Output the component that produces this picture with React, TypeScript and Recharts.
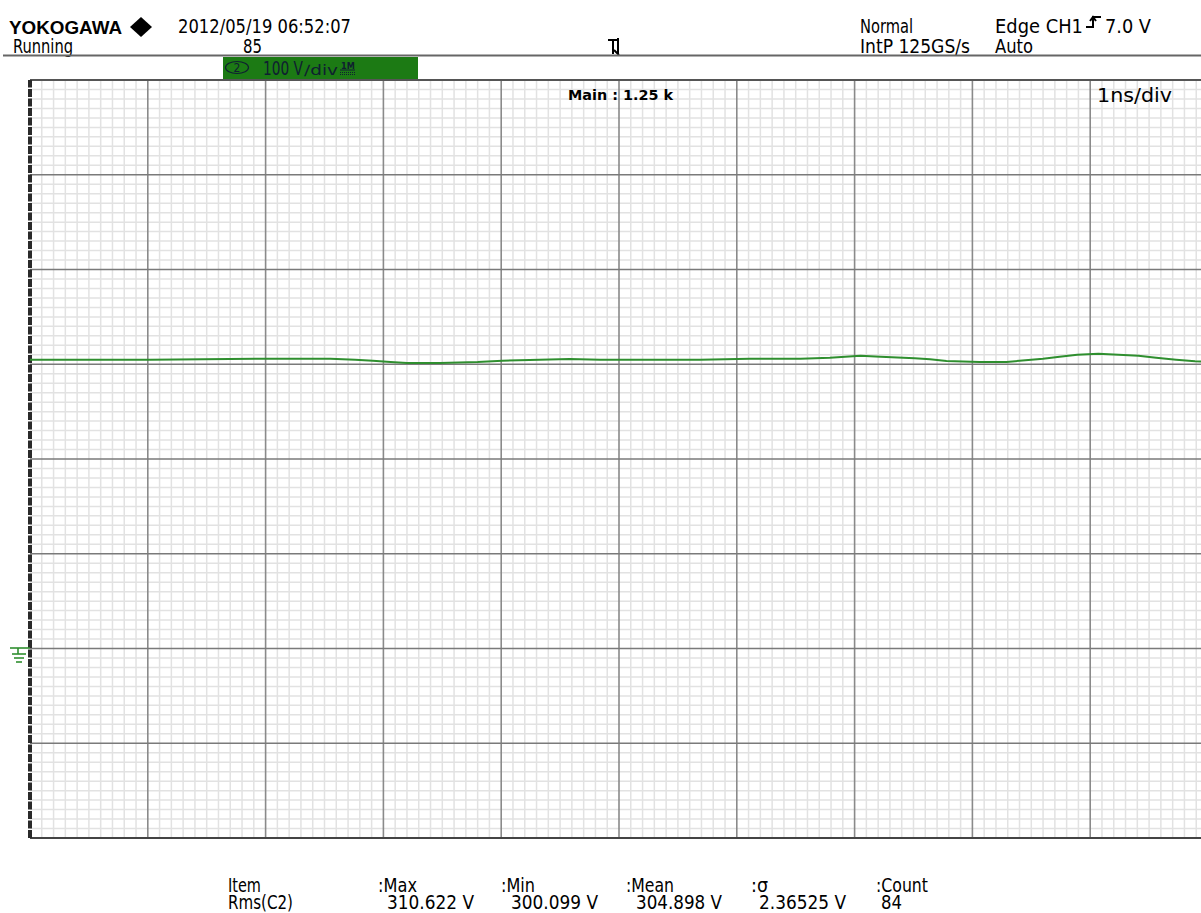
import { LineChart, Line, XAxis, YAxis, ReferenceLine } from "recharts";

// CH2 trace, time in ns and level in volts
const timeNs = [
  0, 1.02, 1.94, 2.55, 2.76, 2.91, 3.06, 3.2, 3.48, 3.8, 4.01, 4.24, 4.58, 4.84,
  5.69, 6.11, 6.54, 6.79, 7.05, 7.22, 7.51, 7.64, 7.78, 8.06, 8.29, 8.4, 8.6,
  8.74, 8.89, 9.07, 9.24, 9.41, 9.56, 9.73, 9.89, 10,
];
const ch2Volts = [
  304.8, 304.8, 305.9, 305.9, 304.8, 303.7, 302.4, 301.3, 301.3, 302.4, 303.7,
  304.5, 305.5, 304.8, 304.8, 305.9, 305.9, 306.9, 309.0, 308.0, 306.3, 305.2,
  303.4, 302.4, 302.4, 303.7, 305.9, 308.0, 310.1, 311.1, 310.1, 309.0, 306.9,
  304.8, 303.1, 302.6,
];

// screen: 10 div x 1 ns, 8 div x 100 V, ground two divisions up
const timeDomain = [0, 10];
const voltDomain = [-200, 600];
const majorTimes = [1, 2, 3, 4, 5, 6, 7, 8, 9];
const majorVolts = [-100, 0, 100, 200, 300, 400, 500];
const minorTimes = Array.from({ length: 100 }, (_, i) => i / 10).filter((t) => t % 1 !== 0);
const minorVolts = Array.from({ length: 80 }, (_, i) => -200 + i * 10).filter((v) => v % 100 !== 0);

// measurement readout
const statHeads = ["Item", ":Max", ":Min", ":Mean", ":\u03c3", ":Count"];
const statValues = ["Rms(C2)", "310.622 V", "300.099 V", "304.898 V", "2.36525 V", "84"];
const statHeadX = [228, 378, 501, 626, 751, 876];
const statHeadW = [33, 39, 34, 48, 17, 52];
const statValueX = [228, 387, 511, 636, 759, 881];
const statValueW = [65, 87, 87, 86, 87, 21];

const rows = timeNs.map((t, i) => ({ t, v: ch2Volts[i] }));

const FONT = '"DejaVu Sans Condensed", "DejaVu Sans", sans-serif';

function T({
  x,
  y,
  w,
  size = 20,
  fill = "#000",
  bold = false,
  family = FONT,
  children,
}: {
  x: number;
  y: number;
  w: number;
  size?: number;
  fill?: string;
  bold?: boolean;
  family?: string;
  children: string;
}) {
  return (
    <text
      x={x}
      y={y}
      fontSize={size}
      fill={fill}
      fontFamily={family}
      fontWeight={bold ? "bold" : "normal"}
      textLength={w}
      lengthAdjust="spacingAndGlyphs"
    >
      {children}
    </text>
  );
}

function Overlay() {
  return (
    <svg
      width={1201}
      height={913}
      style={{ position: "absolute", left: 0, top: 0, pointerEvents: "none" }}
    >
      {/* header */}
      <T x={9} y={34} w={113} size={18} bold family='"Liberation Sans", Arial, sans-serif'>
        YOKOGAWA
      </T>
      <path d="M141 17 L152 27 L141 37 L130 27 Z" fill="#000" />
      <T x={178} y={33} w={173}>2012/05/19 06:52:07</T>
      <T x={13} y={53} w={60}>Running</T>
      <T x={243} y={53} w={19}>85</T>
      <T x={860} y={33} w={53}>Normal</T>
      <T x={860} y={53} w={110}>IntP  125GS/s</T>
      <T x={995} y={33} w={88}>Edge CH1</T>
      <path d="M1086 27 H1093 V17 H1101 M1090 21 L1093 17 L1096 21" stroke="#000" strokeWidth={2} fill="none" />
      <T x={1105} y={33} w={46}>7.0 V</T>
      <T x={995} y={53} w={38}>Auto</T>

      {/* trigger position mark */}
      <path d="M608 40 H618 M613 40 V54 M618 38 V54 M614 50 L619 55" stroke="#000" strokeWidth={2} fill="none" />

      <line x1={3} x2={1201} y1={55.5} y2={55.5} stroke="#666" strokeWidth={2} />

      {/* channel badge */}
      <rect x={223} y={57} width={195} height={22} fill="#1c7a14" />
      <ellipse cx={237} cy={67.5} rx={11.5} ry={6} fill="none" stroke="#0f2030" strokeWidth={1.2} />
      <text x={237} y={72} fontSize={12} fontFamily={FONT} textAnchor="middle" fill="#0f2030">2</text>
      <text y={75} fontFamily={FONT} fill="#0f2030" lengthAdjust="spacingAndGlyphs">
        <tspan x={263} fontSize={19} textLength={40} lengthAdjust="spacingAndGlyphs">100 V</tspan>
        <tspan x={304} fontSize={14} textLength={34} lengthAdjust="spacingAndGlyphs">∕div</tspan>
      </text>
      <text x={341} y={69} fontSize={9} fontWeight="bold" fontFamily={FONT} fill="#0f2030">1M</text>
      <line x1={340} x2={355} y1={70} y2={70} stroke="#0f2030" strokeWidth={1} />
      <line x1={340} x2={355} y1={72.5} y2={72.5} stroke="#0f2030" strokeWidth={1} strokeDasharray="1 1" />
      <line x1={340} x2={355} y1={74.5} y2={74.5} stroke="#0f2030" strokeWidth={1} strokeDasharray="1 1" />

      {/* in-screen labels */}
      <T x={568} y={100} w={105} size={14} bold>Main : 1.25 k</T>
      <T x={1097} y={102} w={75}>1ns/div</T>

      {/* ground marker */}
      <g stroke="#2f8f2f" strokeWidth={1.6}>
        <line x1={10} x2={30} y1={648} y2={648} />
        <line x1={18} x2={18} y1={648} y2={654} />
        <line x1={12} x2={26} y1={654} y2={654} />
        <line x1={14} x2={24} y1={658} y2={658} />
        <line x1={16} x2={22} y1={662} y2={662} />
      </g>

      {/* measurement table, one column per statistic */}
      {statHeads.map((s, i) => (
        <text key={s} fontSize={19} fontFamily={FONT}>
          <tspan x={statHeadX[i]} y={892} textLength={statHeadW[i]} lengthAdjust="spacingAndGlyphs">
            {s}
          </tspan>
          <tspan x={statValueX[i]} y={909} textLength={statValueW[i]} lengthAdjust="spacingAndGlyphs">
            {statValues[i]}
          </tspan>
        </text>
      ))}
    </svg>
  );
}

export default function App() {
  return (
    <div
      style={{
        position: "absolute",
        left: 0,
        top: 0,
        width: 1201,
        height: 913,
        overflow: "hidden",
        background: "#fff",
      }}
    >
      <LineChart
        width={1240}
        height={913}
        data={rows}
        margin={{ top: 80, left: 30, right: 32, bottom: 75 }}
      >
        <XAxis type="number" dataKey="t" domain={timeDomain} hide allowDataOverflow />
        <YAxis type="number" domain={voltDomain} hide allowDataOverflow />
        {minorTimes.map((t) => (
          <ReferenceLine key={`mt${t}`} x={t} stroke="#e2e2e2" strokeWidth={1.5} />
        ))}
        {minorVolts.map((v) => (
          <ReferenceLine key={`mv${v}`} y={v} stroke="#e2e2e2" strokeWidth={1.5} />
        ))}
        {majorTimes.map((t) => (
          <ReferenceLine key={`Mt${t}`} x={t} stroke="#8a8a8a" strokeWidth={1.6} />
        ))}
        {majorVolts.map((v) => (
          <ReferenceLine key={`Mv${v}`} y={v} stroke="#7a7a7a" strokeWidth={1.6} />
        ))}
        <ReferenceLine y={600} stroke="#555" strokeWidth={2} />
        <ReferenceLine y={-200} stroke="#444" strokeWidth={2} />
        <ReferenceLine x={0} stroke="#2a2a2a" strokeWidth={4} strokeDasharray="8 1.5" />
        <Line
          type="linear"
          dataKey="v"
          stroke="#2f8f2f"
          strokeWidth={2}
          dot={false}
          isAnimationActive={false}
        />
      </LineChart>
      <Overlay />
    </div>
  );
}
